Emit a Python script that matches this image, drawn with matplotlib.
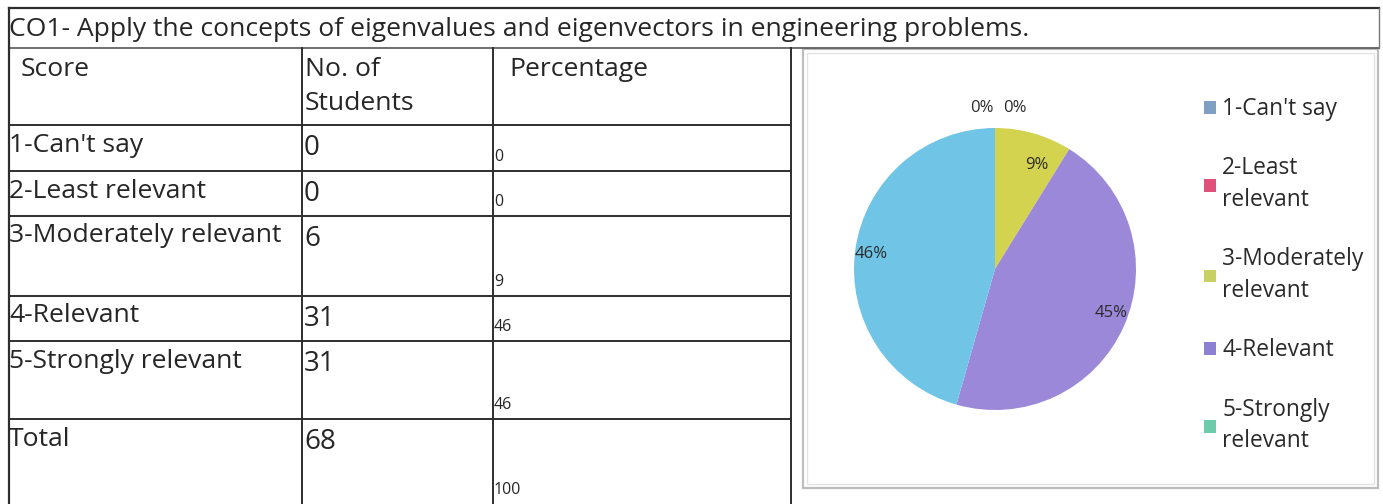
import numpy as np
import matplotlib
matplotlib.use('Agg')
import matplotlib.pyplot as plt
from matplotlib.patches import Patch, Rectangle

plt.rcParams['font.family'] = ['Open Sans', 'DejaVu Sans']

# Table / pie data
title = 'CO1- Apply the concepts of eigenvalues and eigenvectors in engineering problems.'
scores = ["1-Can't say", '2-Least relevant', '3-Moderately relevant', '4-Relevant', '5-Strongly relevant']
students = [0, 0, 6, 31, 31]
percentage = ['0', '0', '9', '46', '46']
total_students = 68
total_pct = '100'
pie_labels = ['0%', '0%', '9%', '45%', '46%']
legend_labels = ["1-Can't say", '2-Least\nrelevant', '3-Moderately\nrelevant', '4-Relevant', '5-Strongly\nrelevant']
slice_colors = ['#7f9fc4', '#e0507a', '#d3d34f', '#9c88d8', '#70c4e6']
legend_colors = ['#7f9fc4', '#e0507a', '#c9d062', '#8b80d2', '#6ccbaa']

W, H = 1383, 504
fig = plt.figure(figsize=(W / 100, H / 100), dpi=100)
fig.patch.set_facecolor('white')

# full-figure axes in pixel coordinates for the table
tab = fig.add_axes([0, 0, 1, 1])
tab.set_xlim(0, W)
tab.set_ylim(H, 0)
tab.axis('off')

ink = '#262626'
line = '#2e2e2e'

# size the document font so the title spans the same width as the scan
renderer = fig.canvas.get_renderer()
probe = tab.text(0, 0, title, fontsize=16)
fs = 16 * 1020 / probe.get_window_extent(renderer).width
probe.remove()

# outer frame and title row
tab.plot([9, 1379], [8, 8], color=line, lw=1.6)
tab.plot([9, 1379], [48, 48], color='#555555', lw=1.2)
tab.plot([9, 9], [8, H], color=line, lw=1.6)
tab.plot([1379, 1379], [8, 48], color='#777777', lw=1.0)
tab.text(9, 30, title, fontsize=fs, color=ink, va='center', ha='left')

# table grid
col_x = [9, 302, 493, 791]
row_y = [48, 125, 171, 216, 296, 341, 419, H]
for x in col_x[1:]:
    tab.plot([x, x], [48, H], color=line, lw=1.4)
for y in row_y[1:-1]:
    tab.plot([9, 791], [y, y], color=line, lw=1.4)

# header
tab.text(21, 69, 'Score', fontsize=fs, color=ink, va='center')
tab.text(305, 69, 'No. of', fontsize=fs, color=ink, va='center')
tab.text(305, 103, 'Students', fontsize=fs, color=ink, va='center')
tab.text(509, 69, 'Percentage', fontsize=fs, color=ink, va='center')

# body rows
row_names = scores + ['Total']
row_counts = students + [total_students]
row_pcts = percentage + [total_pct]
for i in range(len(row_names)):
    top, bot = row_y[i + 1], row_y[i + 2]
    tab.text(9, top + 20, row_names[i], fontsize=fs, color=ink, va='center')
    tab.text(304, top + 23, str(row_counts[i]), fontsize=20, color=ink, va='center')
    tab.text(494, bot - 14, row_pcts[i], fontsize=11.5, color=ink, va='center')

# chart frame
tab.add_patch(Rectangle((803, 49), 1378 - 803, 488 - 49, fill=False, ec='#bdbdbd', lw=1.6))
tab.add_patch(Rectangle((807, 53), 1374 - 807, 484 - 53, fill=False, ec='#e2e2e2', lw=1.0))

# pie chart
cx, cy, r = 995, 269, 141
pax = fig.add_axes([(cx - r) / W, (H - cy - r) / H, 2 * r / W, 2 * r / H])
wedges, texts = pax.pie(students, colors=slice_colors, startangle=90, counterclock=False,
                        labels=pie_labels, labeldistance=0.77,
                        textprops={'fontsize': 12, 'color': '#2a2a2a'},
                        wedgeprops={'linewidth': 0})
pax.set_xlim(-1, 1)
pax.set_ylim(-1, 1)
pax.set_aspect('equal')
# zero slices: Excel puts their labels side by side above the pie
zero = [i for i, v in enumerate(students) if v == 0]
texts[zero[0]].set_position((-0.01, 1.14))
texts[zero[0]].set_ha('right')
texts[zero[1]].set_position((0.06, 1.14))
texts[zero[1]].set_ha('left')

handles = [Patch(facecolor=c, edgecolor='none') for c in legend_colors]
leg = fig.legend(handles, legend_labels, loc='upper left',
                 bbox_to_anchor=(1195 / W, 1 - 88 / H), frameon=False,
                 fontsize=fs * 0.86, handlelength=0.5, handleheight=0.5, handletextpad=0.3,
                 labelspacing=1.55, borderaxespad=0)
for t in leg.get_texts():
    t.set_linespacing(1.42)
    t.set_color('#2a2a2a')

fig.savefig('out.png', dpi=100, facecolor='white')
